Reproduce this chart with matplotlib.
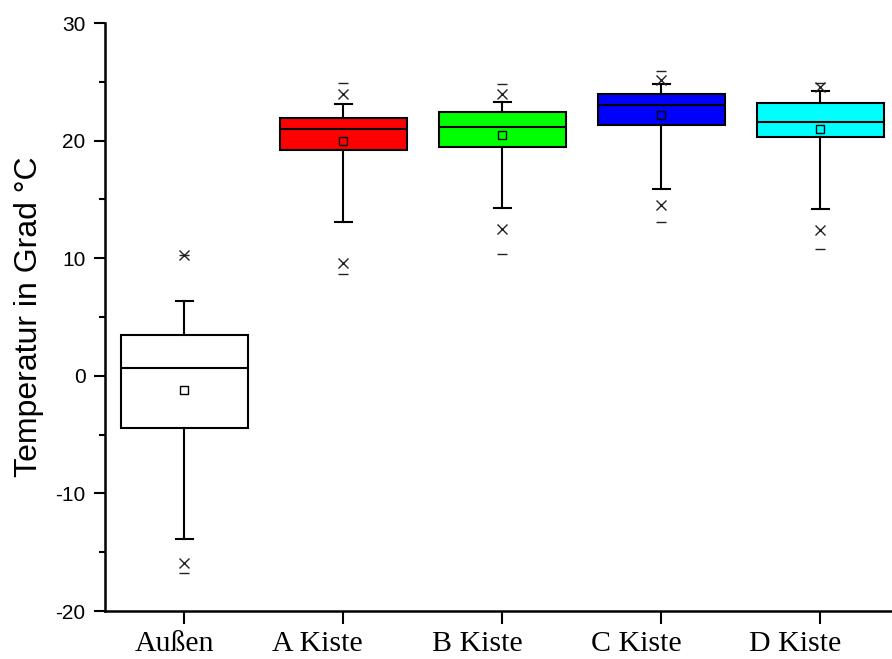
import matplotlib
matplotlib.use("Agg")
import matplotlib.pyplot as plt
import matplotlib.transforms as mtransforms
from matplotlib.ticker import MultipleLocator

plt.rcParams["axes.unicode_minus"] = False

# Werte
labels = ["Außen", "A Kiste", "B Kiste", "C Kiste", "D Kiste"]
q1 = [-4.4, 19.2, 19.5, 21.3, 20.3]
median = [0.7, 21.0, 21.2, 23.0, 21.6]
q3 = [3.5, 21.9, 22.4, 24.0, 23.2]
whislo = [-13.9, 13.1, 14.3, 15.9, 14.2]
whishi = [6.4, 23.1, 23.3, 24.8, 24.2]
mean = [-1.2, 20.0, 20.5, 22.2, 21.0]
p01 = [-15.9, 9.6, 12.5, 14.5, 12.4]
p99 = [10.3, 24.0, 24.0, 25.2, 24.6]
vmin = [-16.8, 8.7, 10.4, 13.1, 10.8]
vmax = [10.3, 24.9, 24.8, 25.9, 24.9]
colors = ["#FFFFFF", "#FF0000", "#00FF00", "#0000FF", "#00FFFF"]

pos = list(range(1, len(labels) + 1))
stats = []
for i in range(len(labels)):
    stats.append(dict(q1=q1[i], med=median[i], q3=q3[i], whislo=whislo[i],
                      whishi=whishi[i], mean=mean[i], fliers=[]))

fig = plt.figure(figsize=(8.92, 6.59), dpi=100)
ax = fig.add_axes([0.1177, 0.0728, 0.8823, 0.8922])

bp = ax.bxp(stats, positions=pos, widths=0.8, capwidths=0.11,
            patch_artist=True, showmeans=True, showfliers=False,
            boxprops=dict(linewidth=1.5, edgecolor="black"),
            medianprops=dict(color="black", linewidth=1.5),
            whiskerprops=dict(color="black", linewidth=1.5),
            capprops=dict(color="black", linewidth=1.5),
            meanprops=dict(marker="s", markersize=6, markerfacecolor="none",
                           markeredgecolor="black", markeredgewidth=1.0))
for patch, c in zip(bp["boxes"], colors):
    patch.set_facecolor(c)

for vals, mk in [(p01, "x"), (p99, "x"), (vmin, "_"), (vmax, "_")]:
    ax.plot(pos, vals, linestyle="none", marker=mk, markersize=7,
            color="#222222", markeredgewidth=1.0)

ax.set_xlim(0.5, 5.45)
ax.set_ylim(-20, 30)
ax.yaxis.set_major_locator(MultipleLocator(10))
ax.yaxis.set_minor_locator(MultipleLocator(5))
ax.set_xticks(pos)
ax.set_xticklabels([])

# Beschriftungen leicht nach links versetzt wie im Original
shifts = [-10, -26, -25, -25, -25]
for p, lab, dx in zip(pos, labels, shifts):
    tr = ax.get_xaxis_transform() + mtransforms.ScaledTranslation(
        dx / 100, -0.2, fig.dpi_scale_trans)
    ax.text(p, 0, lab, transform=tr, ha="center", va="top",
            family="Liberation Serif", fontsize=21.5)

for side in ["top", "right"]:
    ax.spines[side].set_visible(False)
for side in ["left", "bottom"]:
    ax.spines[side].set_linewidth(1.8)

ax.tick_params(axis="y", which="major", direction="out", length=8, width=1.5,
               labelsize=15, pad=6)
ax.tick_params(axis="y", which="minor", direction="out", length=4.5, width=1.5)
ax.tick_params(axis="x", which="major", direction="out", length=9, width=1.5)
for lab in ax.get_yticklabels():
    lab.set_family("Liberation Sans")

ax.set_ylabel("Temperatur in Grad °C", family="Liberation Sans", fontsize=23,
              labelpad=8)

fig.savefig("out.png", dpi=100)
